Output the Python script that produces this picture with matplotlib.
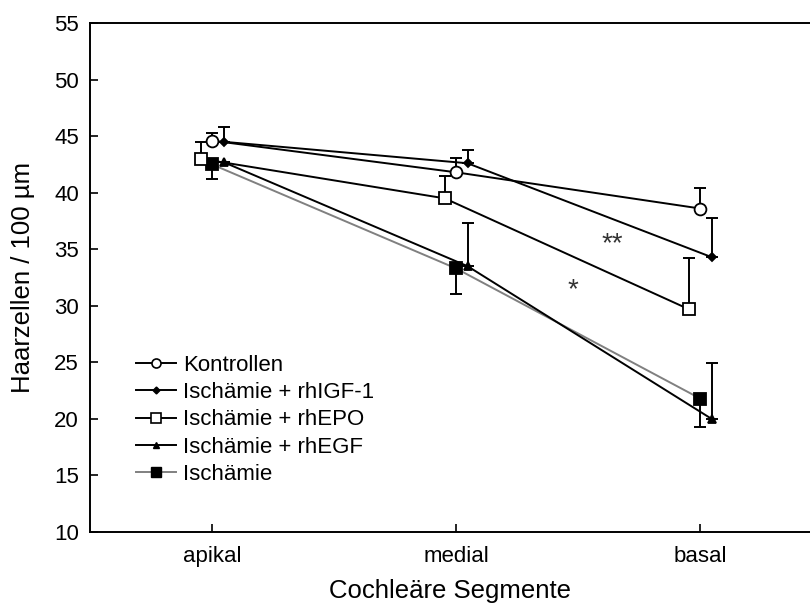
import matplotlib
matplotlib.use("Agg")
import matplotlib.pyplot as plt
import numpy as np
from matplotlib.lines import Line2D

plt.rcParams['font.family'] = ['Liberation Sans', 'DejaVu Sans']

categories = ["apikal", "medial", "basal"]
series_names = ["Kontrollen", "Ischämie + rhIGF-1", "Ischämie + rhEPO", "Ischämie + rhEGF", "Ischämie"]

kontrollen = [44.6, 41.8, 38.6]
kontrollen_err = [0.7, 1.3, 1.8]
igf1 = [44.5, 42.6, 34.3]
igf1_err = [1.3, 1.2, 3.5]
epo = [43.0, 39.5, 29.7]
epo_err = [1.5, 2.0, 4.5]
egf = [42.7, 33.5, 20.0]
egf_err = [0.0, 3.8, 4.9]
isch = [42.5, 33.3, 21.8]
isch_err = [1.3, 2.3, 2.5]

fig = plt.figure(figsize=(8.10, 6.15), dpi=100)
ax = fig.add_axes([90/810, 1-532/615, 1-90/810, (532-23)/615])

x = np.arange(1, 4)
off = 0.047
lw = 1.4
cs = 4.5

def draw(xs, ys, err, direction, marker, ms, mfc, lc, zorder):
    ax.plot(xs, ys, color=lc, lw=lw, zorder=zorder)
    lower = err if direction == 'down' else [0]*len(err)
    upper = err if direction == 'up' else [0]*len(err)
    ax.errorbar(xs, ys, yerr=[lower, upper], fmt='none', ecolor='black',
                elinewidth=lw, capsize=cs, capthick=lw, zorder=zorder)
    ax.plot(xs, ys, linestyle='none', marker=marker, ms=ms, mfc=mfc,
            mec='black', mew=1.3, zorder=zorder+0.5)

draw(x + 0, kontrollen, kontrollen_err, 'up', 'o', 8.5, 'white', 'black', 3)
draw(x + off, igf1, igf1_err, 'up', 'D', 4.5, 'black', 'black', 3)
draw(x - off, epo, epo_err, 'up', 's', 8, 'white', 'black', 3)
draw(x + off, egf, egf_err, 'up', '^', 6, 'black', 'black', 3)
draw(x + 0, isch, isch_err, 'down', 's', 8, 'black', 'gray', 2)

ax.text(2.64, 35.4, "**", ha='center', va='center', fontsize=20, color='#333333')
ax.text(2.48, 31.4, "*", ha='center', va='center', fontsize=20, color='#333333')

handles = [
    Line2D([], [], color='black', lw=lw, marker='o', ms=6.5, mfc='white', mec='black', mew=1.2),
    Line2D([], [], color='black', lw=lw, marker='D', ms=3.5, mfc='black', mec='black'),
    Line2D([], [], color='black', lw=lw, marker='s', ms=6.5, mfc='white', mec='black', mew=1.2),
    Line2D([], [], color='black', lw=lw, marker='^', ms=5, mfc='black', mec='black'),
    Line2D([], [], color='gray', lw=lw, marker='s', ms=6.5, mfc='black', mec='black'),
]
ax.legend(handles, series_names, loc='upper left', bbox_to_anchor=(136/810, 1-355/615),
          bbox_transform=fig.transFigure, frameon=False, fontsize=16,
          handlelength=1.8, handletextpad=0.3, labelspacing=0.28, borderpad=0, borderaxespad=0)

ax.set_xlim(0.5, 3.45)
ax.set_ylim(10, 55)
ax.set_yticks(np.arange(10, 56, 5))
ax.set_xticks(x)
ax.set_xticklabels(categories)
ax.tick_params(direction='in', length=6, width=1.2, labelsize=16, pad=10)
ax.tick_params(axis='y', pad=8)
ax.spines['right'].set_visible(False)
for s in ['left', 'top', 'bottom']:
    ax.spines[s].set_linewidth(1.4)

ax.set_ylabel("Haarzellen / 100 µm", fontsize=18.5, labelpad=14)
ax.set_xlabel("Cochleäre Segmente", fontsize=18.5, labelpad=9)

fig.savefig("out.png", dpi=100)
